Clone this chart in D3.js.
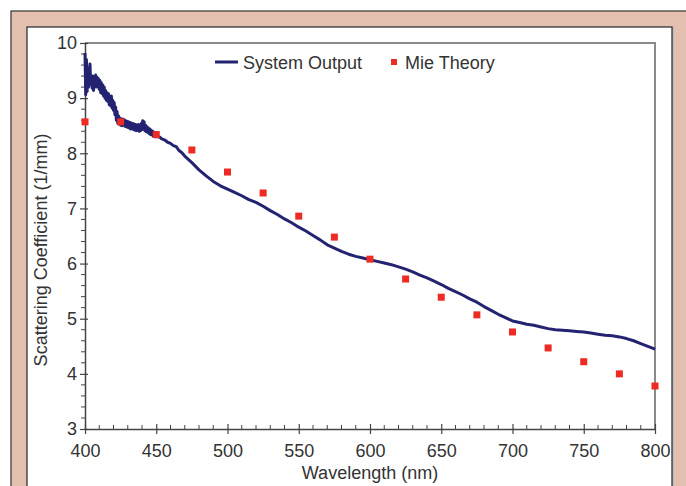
<!DOCTYPE html>
<html>
<head>
<meta charset="utf-8">
<script src="https://cdn.jsdelivr.net/npm/d3@7"></script>
<style>
  body { margin: 0; background: #fff; }
  svg { display: block; font-family: "Liberation Sans", Arial, sans-serif; }
</style>
</head>
<body>
<div id="chart"></div>
<script>
// System Output, noisy part 400-450 nm sampled every 0.5 nm
const noisyWave = d3.range(400, 450.25, 0.5)
const noisyValue = [9.82, 9.06, 9.70, 9.12, 9.55, 9.20, 9.45, 9.62, 9.25, 9.40,
  9.18, 9.40, 9.14, 9.36, 9.24, 9.42, 9.20, 9.38, 9.22, 9.35,
  9.16, 9.32, 9.10, 9.28, 9.08, 9.24, 9.04, 9.20, 9.00, 9.14,
  8.96, 9.10, 8.94, 9.08, 8.88, 9.02, 8.86, 9.04, 8.82, 8.96,
  8.78, 8.92, 8.70, 8.84, 8.60, 8.76, 8.54, 8.68, 8.53, 8.64,
  8.51, 8.62, 8.50, 8.62, 8.52, 8.61, 8.49, 8.59, 8.48, 8.58,
  8.47, 8.57, 8.46, 8.56, 8.44, 8.55, 8.45, 8.54, 8.43, 8.53,
  8.42, 8.52, 8.41, 8.51, 8.42, 8.52, 8.40, 8.50, 8.41, 8.54,
  8.43, 8.59, 8.45, 8.57, 8.41, 8.51, 8.39, 8.48, 8.38, 8.46,
  8.36, 8.44, 8.34, 8.42, 8.33, 8.40, 8.31, 8.38, 8.30, 8.36, 8.30]

// System Output, smoother part
const smoothWave = [452, 454, 456, 458, 460, 462, 464, 466, 468, 470, 475, 480, 485, 490, 495, 500, 505, 510,
  515, 520, 525, 530, 535, 540, 545, 550, 555, 560, 565, 570, 575, 580, 585, 590, 595, 600, 605, 610, 615,
  620, 625, 630, 635, 640, 645, 650, 655, 660, 665, 670, 675, 680, 685, 690, 695, 700, 705, 710, 715, 720,
  725, 730, 735, 740, 745, 750, 755, 760, 765, 770, 775, 780, 785, 790, 795, 800]
const smoothValue = [8.30, 8.26, 8.24, 8.20, 8.18, 8.14, 8.12, 8.05, 8.01, 7.95, 7.83, 7.70, 7.59, 7.49, 7.41,
  7.35, 7.29, 7.23, 7.16, 7.11, 7.04, 6.96, 6.89, 6.81, 6.74, 6.66, 6.59, 6.51, 6.43, 6.34, 6.28, 6.22, 6.17,
  6.13, 6.10, 6.07, 6.04, 6.01, 5.98, 5.94, 5.90, 5.85, 5.79, 5.74, 5.68, 5.62, 5.55, 5.49, 5.43, 5.36, 5.30,
  5.22, 5.15, 5.08, 5.02, 4.96, 4.93, 4.90, 4.88, 4.85, 4.82, 4.80, 4.79, 4.78, 4.77, 4.76, 4.74, 4.72, 4.70,
  4.69, 4.67, 4.64, 4.60, 4.55, 4.50, 4.45]

// Mie theory prediction
const mieWave = [400, 425, 450, 475, 500, 525, 550, 575, 600, 625, 650, 675, 700, 725, 750, 775, 800]
const mieValue = [8.57, 8.57, 8.34, 8.06, 7.66, 7.28, 6.86, 6.48, 6.08, 5.72, 5.39, 5.07, 4.76, 4.47, 4.22, 4.00, 3.78]

const xTicks = [400, 450, 500, 550, 600, 650, 700, 750, 800]
const yTicks = [3, 4, 5, 6, 7, 8, 9, 10]

const W = 686, H = 486
const margin = { top: 43, left: 85, right: 31, bottom: 57 }
const width = W - margin.left - margin.right,
      height = H - margin.top - margin.bottom

const svg = d3.select("#chart").append("svg")
  .attr("width", W).attr("height", H)

// frame
svg.append("rect").attr("x", 11).attr("y", 11).attr("width", 690).attr("height", 490)
  .attr("fill", "#e2bfae").attr("stroke", "#333").attr("stroke-width", 1.2)
svg.append("rect").attr("x", 28).attr("y", 28).attr("width", 645).attr("height", 470)
  .attr("fill", "none").attr("stroke", "#bbb").attr("stroke-width", 2)
svg.append("rect").attr("x", 27).attr("y", 27).attr("width", 645).attr("height", 470)
  .attr("fill", "#fff").attr("stroke", "#333").attr("stroke-width", 1.3)

const g = svg.append("g").attr("transform", "translate(" + margin.left + "," + margin.top + ")")

const x = d3.scaleLinear().domain([400, 800]).range([0, width])
const y = d3.scaleLinear().domain([3, 10]).range([height, 0])

// top / right border
g.append("path").attr("d", "M0,0H" + width + "V" + height)
  .attr("fill", "none").attr("stroke", "#8a8a8a").attr("stroke-width", 2)

// minor ticks
g.append("g").selectAll("line").data(d3.range(410, 800, 10).filter(d => d % 50 !== 0))
  .enter().append("line")
  .attr("x1", d => x(d)).attr("x2", d => x(d))
  .attr("y1", height - 4).attr("y2", height)
  .attr("stroke", "#444")
g.append("g").selectAll("line").data(d3.range(3.2, 10, 0.2).filter(d => Math.abs(d - Math.round(d)) > 0.05))
  .enter().append("line")
  .attr("x1", -4).attr("x2", 0)
  .attr("y1", d => y(d)).attr("y2", d => y(d))
  .attr("stroke", "#444")

const xAxis = g.append("g").attr("transform", "translate(0," + height + ")")
  .call(d3.axisBottom(x).tickValues(xTicks).tickSize(5).tickPadding(10).tickSizeOuter(0))
xAxis.selectAll(".tick line").attr("y1", -5)
const yAxis = g.append("g")
  .call(d3.axisLeft(y).tickValues(yTicks).tickFormat(d3.format("d")).tickSize(5).tickPadding(3).tickSizeOuter(0))
yAxis.selectAll(".tick line").attr("x1", 3)

g.selectAll(".domain").attr("stroke", "#444").attr("stroke-width", 1.5)
g.selectAll(".tick line").attr("stroke", "#444").attr("stroke-width", 1.2)
g.selectAll(".tick text").attr("font-size", 18).attr("fill", "#333")
  .style("font-family", "'Liberation Sans', Arial, sans-serif")

// series
const sysData = noisyWave.map((w, i) => ({ w, v: noisyValue[i] }))
  .concat(smoothWave.map((w, i) => ({ w, v: smoothValue[i] })))
g.append("path").datum(sysData)
  .attr("fill", "none").attr("stroke", "#232371").attr("stroke-width", 3)
  .attr("stroke-linejoin", "round")
  .attr("d", d3.line().x(d => x(d.w)).y(d => y(d.v)))

g.append("g").selectAll("rect").data(mieWave.map((w, i) => ({ w, v: mieValue[i] })))
  .enter().append("rect")
  .attr("x", d => x(d.w) - 3.5).attr("y", d => y(d.v) - 3.5)
  .attr("width", 7).attr("height", 7)
  .attr("fill", "#ee2a24")

// legend
const leg = g.append("g").attr("transform", "translate(130,19)")
leg.append("line").attr("x1", 0).attr("x2", 23).attr("stroke", "#232371").attr("stroke-width", 3)
leg.append("text").attr("x", 28).attr("y", 6.5).attr("font-size", 18).attr("fill", "#333").text("System Output")
leg.append("rect").attr("x", 176).attr("y", -3).attr("width", 6).attr("height", 6).attr("fill", "#ee2a24")
leg.append("text").attr("x", 190).attr("y", 6.5).attr("font-size", 18).attr("fill", "#333").text("Mie Theory")

// axis titles
svg.append("text").attr("x", margin.left + width / 2).attr("y", 479)
  .attr("text-anchor", "middle").attr("font-size", 18).attr("fill", "#333").text("Wavelength (nm)")
svg.append("text").attr("transform", "translate(47,250) rotate(-90)")
  .attr("text-anchor", "middle").attr("font-size", 18).attr("fill", "#333").text("Scattering Coefficient (1/mm)")
</script>
</body>
</html>
